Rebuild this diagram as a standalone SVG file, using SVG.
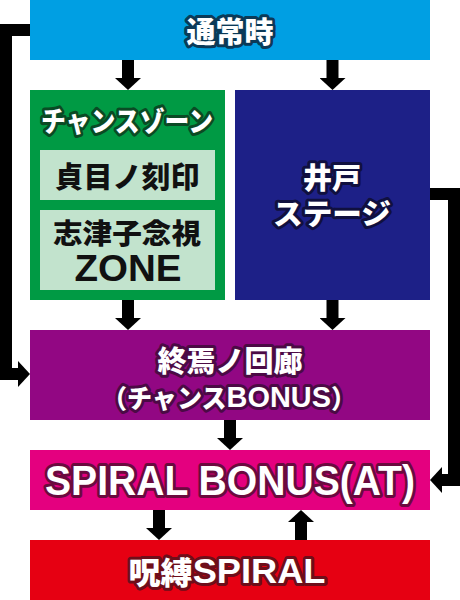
<svg xmlns="http://www.w3.org/2000/svg" width="460" height="600" viewBox="0 0 460 600">
<style>
.t{font-family:"Noto Sans CJK JP","Liberation Sans",sans-serif;font-weight:900;text-anchor:middle;dominant-baseline:central;}
.l{font-family:"Liberation Sans",Arial,sans-serif;font-weight:bold;}
.w{fill:#fff;stroke-width:6;stroke-linejoin:round;paint-order:stroke;}
.k{fill:#111;}
.c{fill:none;stroke:#000;stroke-width:12;stroke-linejoin:miter;}
</style>
<defs>
<marker id="ah" viewBox="0 0 12 26" refX="0" refY="13" markerWidth="12" markerHeight="26" markerUnits="userSpaceOnUse" orient="auto">
<path d="M0,0 L12,13 L0,26 Z" fill="#000"/>
</marker>
</defs>
<rect width="460" height="600" fill="#fff"/>
<g id="connectors">
<path class="c" d="M128,60 V78" marker-end="url(#ah)"/>
<path class="c" d="M332.5,60 V78" marker-end="url(#ah)"/>
<path class="c" d="M128,300 V318" marker-end="url(#ah)"/>
<path class="c" d="M332.5,300 V318" marker-end="url(#ah)"/>
<path class="c" d="M230,420 V438" marker-end="url(#ah)"/>
<path class="c" d="M159,510 V528" marker-end="url(#ah)"/>
<path class="c" d="M301,540 V522" marker-end="url(#ah)"/>
<path class="c" d="M30,30 H6 V374 H18" marker-end="url(#ah)"/>
<path class="c" d="M430,194 H454 V480 H442" marker-end="url(#ah)"/>
</g>
<g id="normal">
<rect x="30" y="0" width="400" height="60" fill="#009FE3"/>
<text class="t w" x="230" y="30" font-size="29" stroke="#0B3A58">通常時</text>
</g>
<g id="chance-zone">
<rect x="30" y="90" width="195" height="210" fill="#009A44"/>
<text class="t w" x="127" y="120" font-size="28" stroke="#0A4A24" textLength="172" lengthAdjust="spacingAndGlyphs">チャンスゾーン</text>
<g id="sadame">
<rect x="40" y="150" width="175" height="50" fill="#C2E3CD"/>
<text class="t k" x="127" y="175" font-size="29">貞目ノ刻印</text>
</g>
<g id="shizuko">
<rect x="40" y="210" width="175" height="80" fill="#C2E3CD"/>
<text class="t k" x="127" y="232" font-size="28" textLength="148" lengthAdjust="spacingAndGlyphs">志津子念視</text>
<text class="t l k" x="128" y="268" font-size="36" textLength="107" lengthAdjust="spacingAndGlyphs">ZONE</text>
</g>
</g>
<g id="well-stage">
<rect x="235" y="90" width="195" height="210" fill="#1D2087"/>
<text class="t w" x="332" y="176" font-size="29" stroke="#10103F">井戸</text>
<text class="t w" x="332" y="212" font-size="29" stroke="#10103F" textLength="118" lengthAdjust="spacingAndGlyphs">ステージ</text>
</g>
<g id="shuen">
<rect x="30" y="330" width="400" height="90" fill="#920783"/>
<text class="t w" x="230" y="359" font-size="29" stroke="#4B0A45">終焉ノ回廊</text>
<text class="t w" x="229" y="396" font-size="26" stroke="#4B0A45" textLength="254" lengthAdjust="spacingAndGlyphs">（チャンス<tspan class="l" font-size="30">BONUS</tspan>）</text>
</g>
<g id="spiral-bonus">
<rect x="30" y="450" width="400" height="60" fill="#E4007F"/>
<text class="t l w" x="230" y="480" font-size="42" stroke="#6A0A3E" textLength="370" lengthAdjust="spacingAndGlyphs">SPIRAL BONUS(AT)</text>
</g>
<g id="jubaku">
<rect x="30" y="540" width="400" height="60" fill="#E60012"/>
<text class="t w" x="227" y="570" font-size="31" stroke="#6E0E1A" textLength="197" lengthAdjust="spacingAndGlyphs">呪縛<tspan class="l" font-size="35">SPIRAL</tspan></text>
</g>
</svg>
